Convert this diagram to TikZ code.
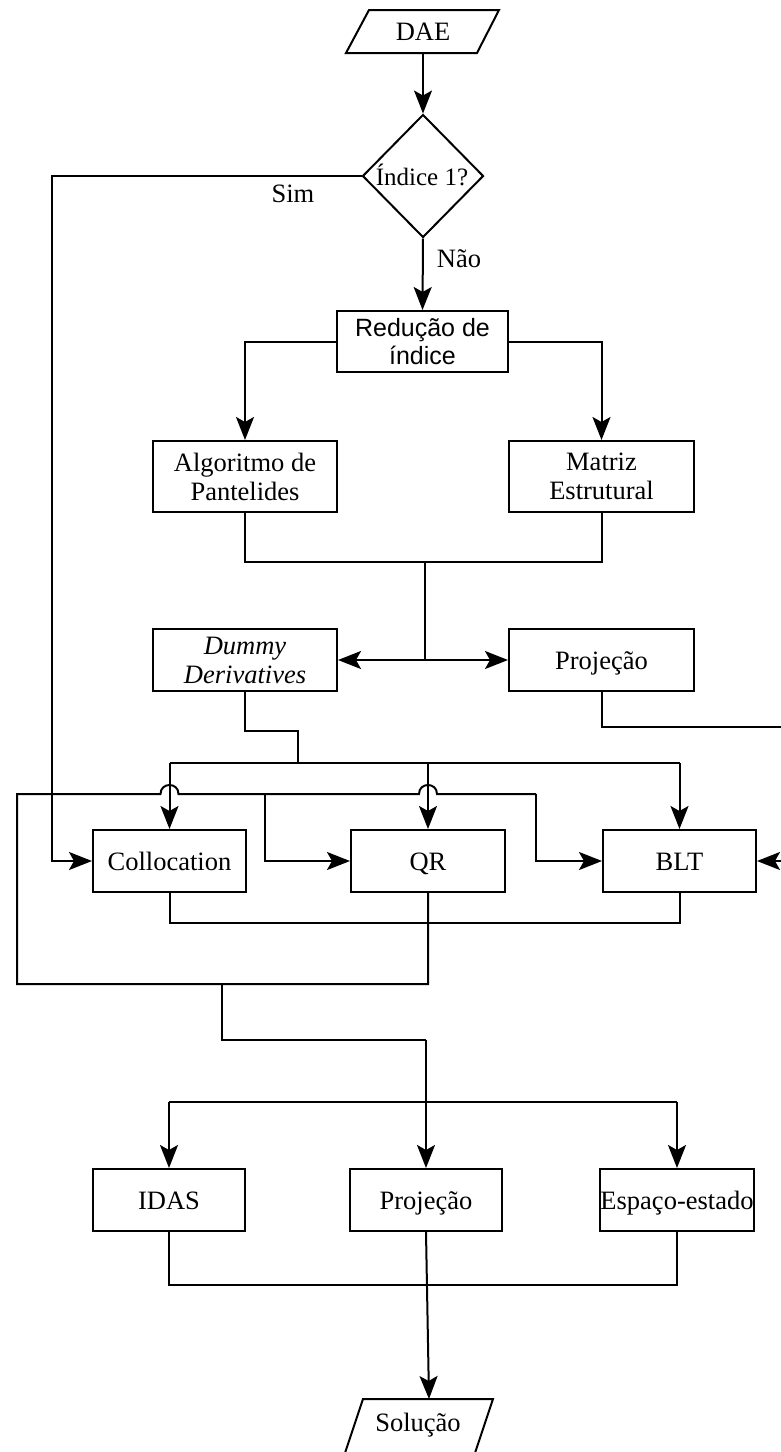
\documentclass[tikz,border=0pt]{standalone}
\usepackage{fontspec}
\setmainfont{Liberation Serif}
\newfontfamily\sansfam{Liberation Sans}
\usetikzlibrary{shapes.geometric,arrows.meta}

\begin{document}
\begin{tikzpicture}[x=1pt,y=-1pt,
  line width=2pt,
  every node/.style={font=\fontsize{26.5}{29}\selectfont},
  box/.style={draw, rectangle, inner sep=0pt, align=center, minimum height=62pt},
  one/.style={box, text height=18pt, text depth=0pt},
  lbl/.style={inner sep=0pt},
  arr/.style={-{Stealth[length=23pt,width=18pt,inset=5pt]}}]

\fill[white] (0,0) rectangle (781,1452);
\clip (0,0) rectangle (781,1452);

% start / decision
\node[lbl, minimum width=130pt, minimum height=43pt, text height=18pt, text depth=0pt] (dae) at (423,31.5) {DAE};
\draw (346,53) -- (369,10) -- (499,10) -- (477,53) -- cycle;
\node[draw, diamond, minimum width=121pt, minimum height=123pt, inner sep=0pt] (dia) at (423,176) {};
\node[lbl, text height=18pt, text depth=0pt, font=\fontsize{25}{29}\selectfont] (diatxt) at (422,176) {Índice 1?};

% index reduction
\node[box, font=\sansfam\fontsize{25}{28}\selectfont, minimum width=171pt, minimum height=61pt] (red) at (422.5,341.5) {Redução de\\índice};
\node[box, minimum width=184pt, minimum height=71pt] (alg) at (245,476.5) {Algoritmo de\\Pantelides};
\node[box, minimum width=185pt, minimum height=71pt] (mat) at (601.5,476.5) {Matriz\\Estrutural};
\node[box, minimum width=184pt, font=\itshape\fontsize{26.5}{29}\selectfont] (dum) at (245,660) {Dummy\\Derivatives};
\node[one, minimum width=185pt] (pj1) at (601.5,660) {Projeção};

% solution methods
\node[one, minimum width=153pt] (col) at (169.5,861) {Collocation};
\node[one, minimum width=154pt] (qr) at (428,861) {QR};
\node[one, minimum width=153pt] (blt) at (679.5,861) {BLT};

% integrators
\node[one, minimum width=152pt] (idas) at (169,1200) {IDAS};
\node[one, minimum width=152pt] (pj2) at (426,1200) {Projeção};
\node[one, minimum width=152pt] (esp) at (677,1200) {Espaço-estado};

% output
\node[lbl, text height=18pt, text depth=0pt] (sol) at (418,1422) {Solução};
\draw (342,1462) -- (363,1399) -- (493,1399) -- (472,1462);
\coordinate (solt) at (429,1399);

% labels
\node[lbl] (sim) at (293,194) {Sim};
\node[lbl] (nao) at (459,259) {Não};

% helper points
\coordinate (simc) at (52,176);
\coordinate (simd) at (52,861);
\coordinate (j1) at (425,562);
\coordinate (j2) at (425,660);
\coordinate (b1) at (298,731);
\coordinate (b2) at (298,763);
\coordinate (bl) at (169.5,763);
\coordinate (bq) at (428,763);
\coordinate (br) at (679.5,763);
\coordinate (r1) at (781,727);
\coordinate (r2) at (781,861);
\coordinate (c1) at (679.5,923);
\coordinate (q1) at (428,984);
\coordinate (l1) at (17,984);
\coordinate (l2) at (17,794);
\coordinate (l3) at (536,794);
\coordinate (l4) at (536,861);
\coordinate (m1) at (265,794);
\coordinate (m2) at (265,861);
\coordinate (d1) at (222,984);
\coordinate (d2) at (222,1040);
\coordinate (d3) at (426,1040);
\coordinate (s1) at (169,1102);
\coordinate (s3) at (677,1102);
\coordinate (e1) at (677,1285);

% connectors
\draw[arr] (dae.south) -- (dia.north);
\draw[arr] (dia.west) -- (simc) -- (simd) -- (col.west);
\draw[arr] (dia.south) -- (red.north);
\draw[arr] (red.west) -| (alg.north);
\draw[arr] (red.east) -| (mat.north);
\draw (alg.south) |- (j1) -| (mat.south);
\draw (j1) -- (j2);
\draw[arr] (j2) -- (dum.east);
\draw[arr] (j2) -- (pj1.west);
\draw (dum.south) |- (b1) -- (b2);
\draw (bl) -- (br);
\draw[arr] (bl) -- (col.north);
\draw[arr] (bq) -- (qr.north);
\draw[arr] (br) -- (blt.north);
\draw (pj1.south) |- (r1);
\draw[arr] (r2) -- (blt.east);
\draw (col.south) |- (c1) -- (blt.south);
\draw (qr.south) -- (q1) -- (l1) -- (l2) -- (160.5,794)
  .. controls (160.5,782) and (178.5,782) .. (178.5,794) -- (419,794)
  .. controls (419,782) and (437,782) .. (437,794) -- (l3);
\draw[arr] (l3) -- (l4) -- (blt.west);
\draw[arr] (m1) -- (m2) -- (qr.west);
\draw (d1) -- (d2) -- (d3);
\draw[arr] (d3) -- (pj2.north);
\draw (s1) -- (s3);
\draw[arr] (s1) -- (idas.north);
\draw[arr] (s3) -- (esp.north);
\draw (idas.south) |- (e1) -- (esp.south);
\draw[arr] (pj2.south) -- (solt);
\end{tikzpicture}
\end{document}
